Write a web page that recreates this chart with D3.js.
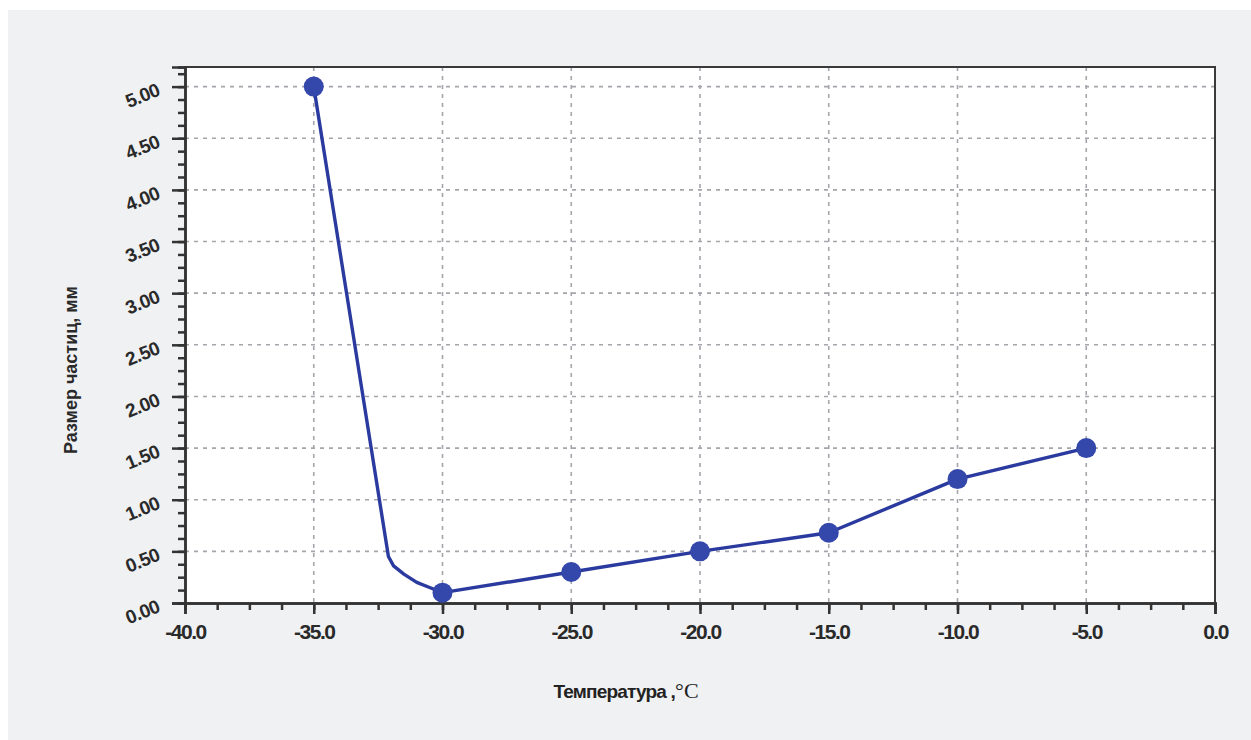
<!DOCTYPE html>
<html>
<head>
<meta charset="utf-8">
<script src="https://cdn.jsdelivr.net/npm/d3@7"></script>
<style>
  body { margin: 0; background: #fff; }
  svg { display: block; }
</style>
</head>
<body>
<div id="chart"></div>
<script>
// data
var temps = [-35, -30, -25, -20, -15, -10, -5];
var sizes = [5.0, 0.1, 0.3, 0.5, 0.68, 1.2, 1.5];
// traced line between the markers (the drop has a bend near -32)
var lineTemps = [-35, -32.1, -31.9, -31.5, -31.0, -30.5, -30, -25, -20, -15, -10, -5];
var lineSizes = [5.0, 0.45, 0.36, 0.28, 0.2, 0.15, 0.1, 0.3, 0.5, 0.68, 1.2, 1.5];
var xTicks = [-40, -35, -30, -25, -20, -15, -10, -5, 0];
var yTicks = [0, 0.5, 1, 1.5, 2, 2.5, 3, 3.5, 4, 4.5, 5];

var svgWidth = 1251;
var svgHeight = 740;
var margin = { top: 67, right: 36, bottom: 137, left: 185 };
var width = svgWidth - margin.left - margin.right;
var height = svgHeight - margin.top - margin.bottom;

var svg = d3.select("#chart").append("svg")
  .attr("width", svgWidth)
  .attr("height", svgHeight);

// grey panel
svg.append("rect")
  .attr("x", 8).attr("y", 10)
  .attr("width", svgWidth - 8).attr("height", svgHeight - 10)
  .attr("fill", "#f0f1f3");

var chartGroup = svg.append("g")
  .attr("transform", `translate(${margin.left}, ${margin.top})`);

chartGroup.append("rect")
  .attr("width", width).attr("height", height)
  .attr("fill", "#fff");

var x = d3.scaleLinear().domain([-40, 0]).range([0, width]);
var y = d3.scaleLinear().domain([0, 5.19]).range([height, 0]);

// grid
chartGroup.selectAll(".vgrid")
  .data(xTicks.filter((d) => d > -40 && d < 0))
  .enter().append("line")
  .attr("x1", (d) => x(d)).attr("x2", (d) => x(d))
  .attr("y1", 0).attr("y2", height)
  .attr("stroke", "#a4a6ac").attr("stroke-width", 1.6)
  .attr("stroke-dasharray", "4,5");

chartGroup.selectAll(".hgrid")
  .data(yTicks.filter((d) => d > 0))
  .enter().append("line")
  .attr("x1", 0).attr("x2", width)
  .attr("y1", (d) => y(d)).attr("y2", (d) => y(d))
  .attr("stroke", "#a4a6ac").attr("stroke-width", 1.6)
  .attr("stroke-dasharray", "4,5");

// frame top/right
chartGroup.append("path")
  .attr("d", `M0,0H${width}V${height}`)
  .attr("fill", "none").attr("stroke", "#3a3a3a").attr("stroke-width", 2);

// minor ticks
var xMinor = d3.range(-40, 0.01, 1.25);
var yMinor = d3.range(0, 5.19, 0.125);

var hyphen = (f) => (d) => f(d).replace("\u2212", "-");

var xAxisMinor = d3.axisBottom(x).tickValues(xMinor).tickSize(7).tickFormat("");
var xAxis = d3.axisBottom(x).tickValues(xTicks).tickSize(11)
  .tickFormat(hyphen(d3.format(".1f")));
var yAxisMinor = d3.axisLeft(y).tickValues(yMinor).tickSize(7).tickFormat("");
var yAxis = d3.axisLeft(y).tickValues(yTicks).tickSize(13)
  .tickFormat(d3.format(".2f"));

var gxm = chartGroup.append("g").attr("transform", `translate(0, ${height})`).call(xAxisMinor);
var gx = chartGroup.append("g").attr("transform", `translate(0, ${height})`).call(xAxis);
var gym = chartGroup.append("g").call(yAxisMinor);
var gy = chartGroup.append("g").call(yAxis);

[gxm, gx, gym, gy].forEach(function (g) {
  g.select(".domain").attr("stroke", "#333").attr("stroke-width", 2.5);
  g.selectAll(".tick line").attr("stroke", "#333").attr("stroke-width", 2.5);
});

gx.selectAll(".tick text")
  .attr("y", 21)
  .attr("dy", "0.71em")
  .style("font-family", "'Liberation Sans', Arial, sans-serif")
  .style("font-weight", "bold")
  .style("font-size", "21px")
  .style("letter-spacing", "-1.5px")
  .attr("fill", "#2a2a2a");

gy.selectAll(".tick text")
  .attr("x", -27)
  .attr("dy", "0.45em")
  .attr("transform", "rotate(-22, -27, 0)")
  .style("font-family", "'Liberation Sans', Arial, sans-serif")
  .style("font-weight", "bold")
  .style("font-size", "19px")
  .style("letter-spacing", "-0.5px")
  .attr("fill", "#2a2a2a");

// line
var line = d3.line()
  .x((d) => x(d[0]))
  .y((d) => y(d[1]));

chartGroup.append("path")
  .datum(lineTemps.map((t, i) => [t, lineSizes[i]]))
  .attr("d", line)
  .attr("fill", "none")
  .attr("stroke", "#2a3a9e")
  .attr("stroke-width", 3.4)
  .attr("stroke-linejoin", "round");

chartGroup.selectAll("circle")
  .data(temps.map((t, i) => [t, sizes[i]]))
  .enter().append("circle")
  .attr("cx", (d) => x(d[0]))
  .attr("cy", (d) => y(d[1]))
  .attr("r", 10)
  .attr("fill", "#3447aa");

// axis titles
svg.append("text")
  .attr("transform", "translate(77, 370) rotate(-90)")
  .attr("text-anchor", "middle")
  .style("font-family", "'Liberation Sans', Arial, sans-serif")
  .style("font-weight", "bold")
  .style("font-size", "18px")
  .attr("fill", "#2a2a2a")
  .text("Размер частиц, мм");

var xt = svg.append("text")
  .attr("x", 626).attr("y", 698)
  .attr("text-anchor", "middle")
  .style("font-family", "'Liberation Sans', Arial, sans-serif")
  .style("font-weight", "bold")
  .style("font-size", "19px")
  .style("letter-spacing", "-0.8px")
  .attr("fill", "#222");
xt.append("tspan").text("Температура ,");
xt.append("tspan")
  .style("font-family", "'Liberation Serif', serif")
  .style("font-weight", "normal")
  .style("font-size", "22px")
  .style("letter-spacing", "0px")
  .text("°C");
</script>
</body>
</html>
